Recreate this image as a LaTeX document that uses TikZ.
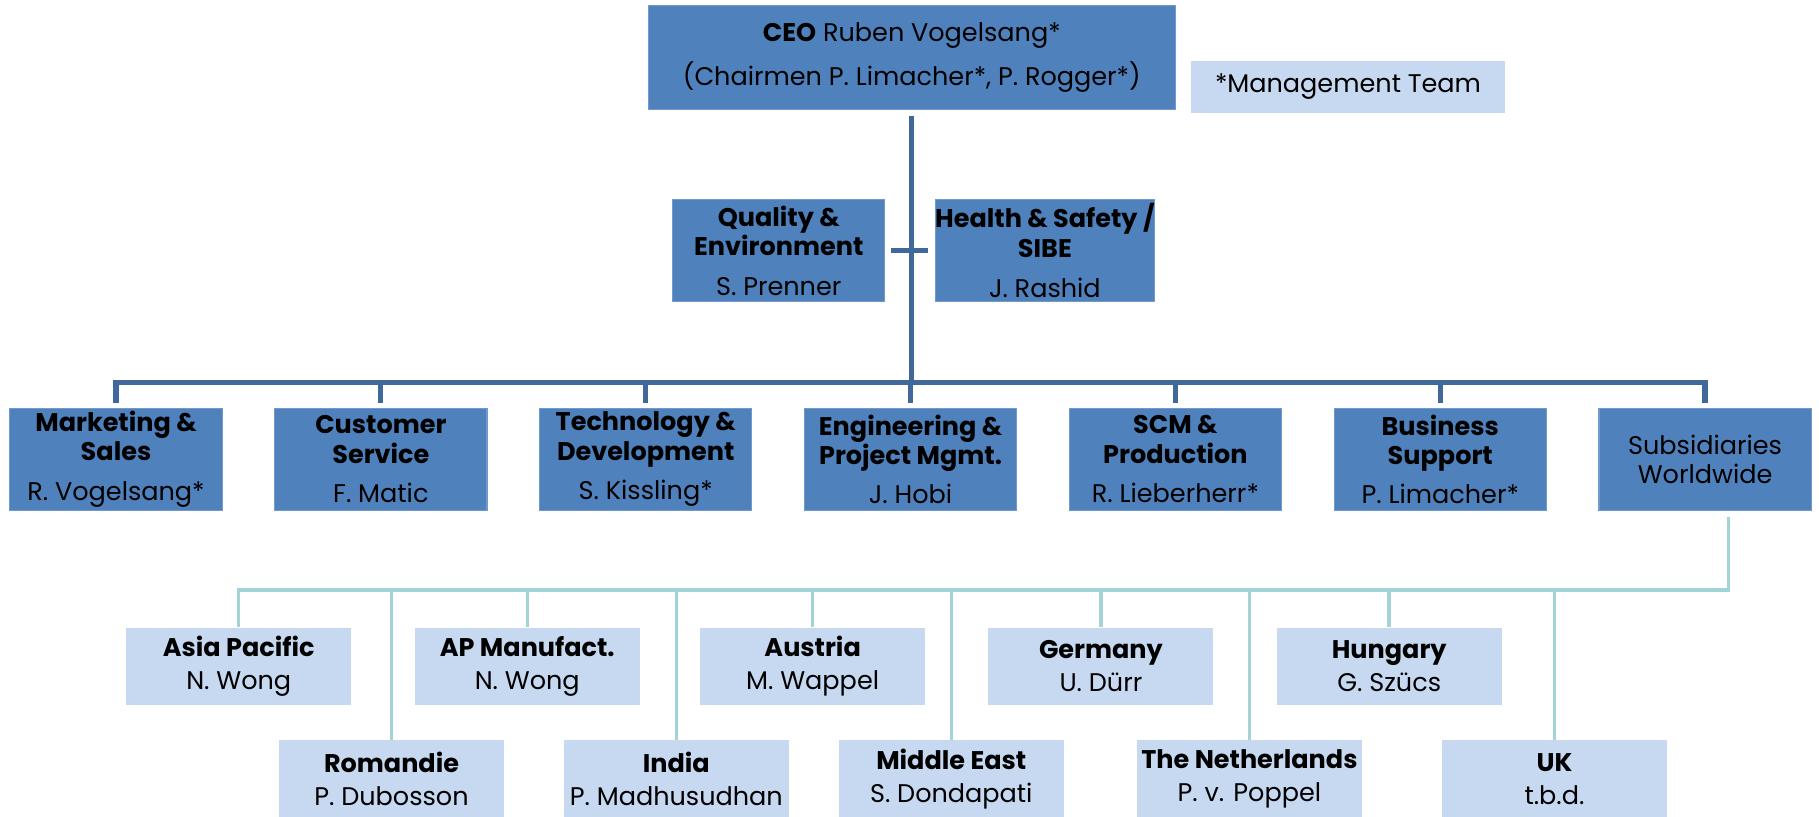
\documentclass[tikz,border=0pt]{standalone}
\usepackage{fontspec}
\setmainfont{Poppins}
\definecolor{dblue}{HTML}{4F81BD}
\definecolor{dedge}{HTML}{7299CB}
\definecolor{lblue}{HTML}{C6D9F1}
\definecolor{dline}{HTML}{41689B}
\definecolor{tline}{HTML}{A2D3D7}
\begin{document}
\begin{tikzpicture}[x=1pt,y=-1pt,
 dbox/.style={rectangle, fill=dblue, draw=dedge, line width=1pt, minimum width=183pt, minimum height=88pt, inner sep=0pt, align=center, font=\fontsize{22}{25.2}\selectfont},
 lbox/.style={rectangle, fill=lblue, minimum width=194pt, minimum height=67pt, inner sep=0pt, align=center, font=\fontsize{22}{28.5}\selectfont},
 dcon/.style={draw=dline, line width=4.5pt},
 tcon/.style={draw=tline, line width=3pt},
]
\useasboundingbox (0,0) rectangle (1568,704);
\fill[white] (0,0) rectangle (1568,704);

% top
\node[dbox, minimum width=454pt, minimum height=90pt] (ceo) at (786,49.5) {\textbf{CEO} Ruben Vogelsang*\\[10.8pt](Chairmen P. Limacher*, P. Rogger*)};
\node[lbox, minimum width=270pt, minimum height=44.5pt] (mgmt) at (1162,75) {*Management Team};

\node[dbox] (qe) at (671.3,216) {\textbf{Quality \&}\\\textbf{Environment}\\[9.3pt]S. Prenner};
\node[dbox] (hs) at (900.7,216) {\textbf{Health \& Safety /}\\\textbf{SIBE}\\[9.3pt]J. Rashid};

% level 2
\node[dbox] (mk) at (100,396) {\textbf{Marketing \&}\\\textbf{Sales}\\[9pt]R. Vogelsang*};
\node[dbox] (cs) at (328.3,396) {\textbf{Customer}\\\textbf{Service}\\[9pt]F. Matic};
\node[dbox] (te) at (556.6,396) {\textbf{Technology \&}\\\textbf{Development}\\[9pt]S. Kissling*};
\node[dbox] (en) at (784.9,396) {\textbf{Engineering \&}\\\textbf{Project Mgmt.}\\[9pt]J. Hobi};
\node[dbox] (sc) at (1013.2,396) {\textbf{SCM \&}\\\textbf{Production}\\[9pt]R. Lieberherr*};
\node[dbox] (bs) at (1241.5,396) {\textbf{Business}\\\textbf{Support}\\[9pt]P. Limacher*};
\node[dbox] (sw) at (1469.8,396) {Subsidiaries\\Worldwide};

% subsidiaries upper
\node[lbox] (asia) at (205.8,574.5) {\textbf{Asia Pacific}\\N. Wong};
\node[lbox] (apm) at (454.5,574.5) {\textbf{AP Manufact.}\\N. Wong};
\node[lbox] (aut) at (700.5,574.5) {\textbf{Austria}\\M. Wappel};
\node[lbox] (ger) at (949,574.5) {\textbf{Germany}\\U. Dürr};
\node[lbox] (hun) at (1197.5,574.5) {\textbf{Hungary}\\G. Szücs};
% subsidiaries lower
\node[lbox] (rom) at (337.5,671.5) {\textbf{Romandie}\\P. Dubosson};
\node[lbox] (ind) at (583,671.5) {\textbf{India}\\P. Madhusudhan};
\node[lbox] (mde) at (820,671.5) {\textbf{Middle East}\\S. Dondapati};
\node[lbox] (ned) at (1077,671.5) {\textbf{The Netherlands}\\P. v. Poppel};
\node[lbox] (uk) at (1340,671.5) {\textbf{UK}\\t.b.d.};

% dark connectors
\coordinate (bus) at (786,329.5);
\draw[dcon] ([yshift=-5pt]ceo.south) -- (bus);
\draw[dcon] ([xshift=5pt]qe.east) -- ([xshift=-6pt]hs.west);
\draw[dcon] ([yshift=4pt]mk.north) -- (mk.north |- bus) -- (sw.north |- bus) -- ([yshift=4pt]sw.north);
\foreach \b in {cs,te,en,sc,bs}{
  \draw[dcon] (\b.north |- bus) -- ([yshift=4pt]\b.north);
}

% teal connectors
\coordinate (ttop) at (1490,445.5);
\coordinate (tbus) at (1490,508.5);
\draw[tcon] (ttop) -- (tbus) -- (asia.north |- tbus) -- (asia.north);
\foreach \b in {apm,aut,ger,hun,rom,ind,mde,ned,uk}{
  \draw[tcon] (\b.north |- tbus) -- (\b.north);
}
\end{tikzpicture}
\end{document}
